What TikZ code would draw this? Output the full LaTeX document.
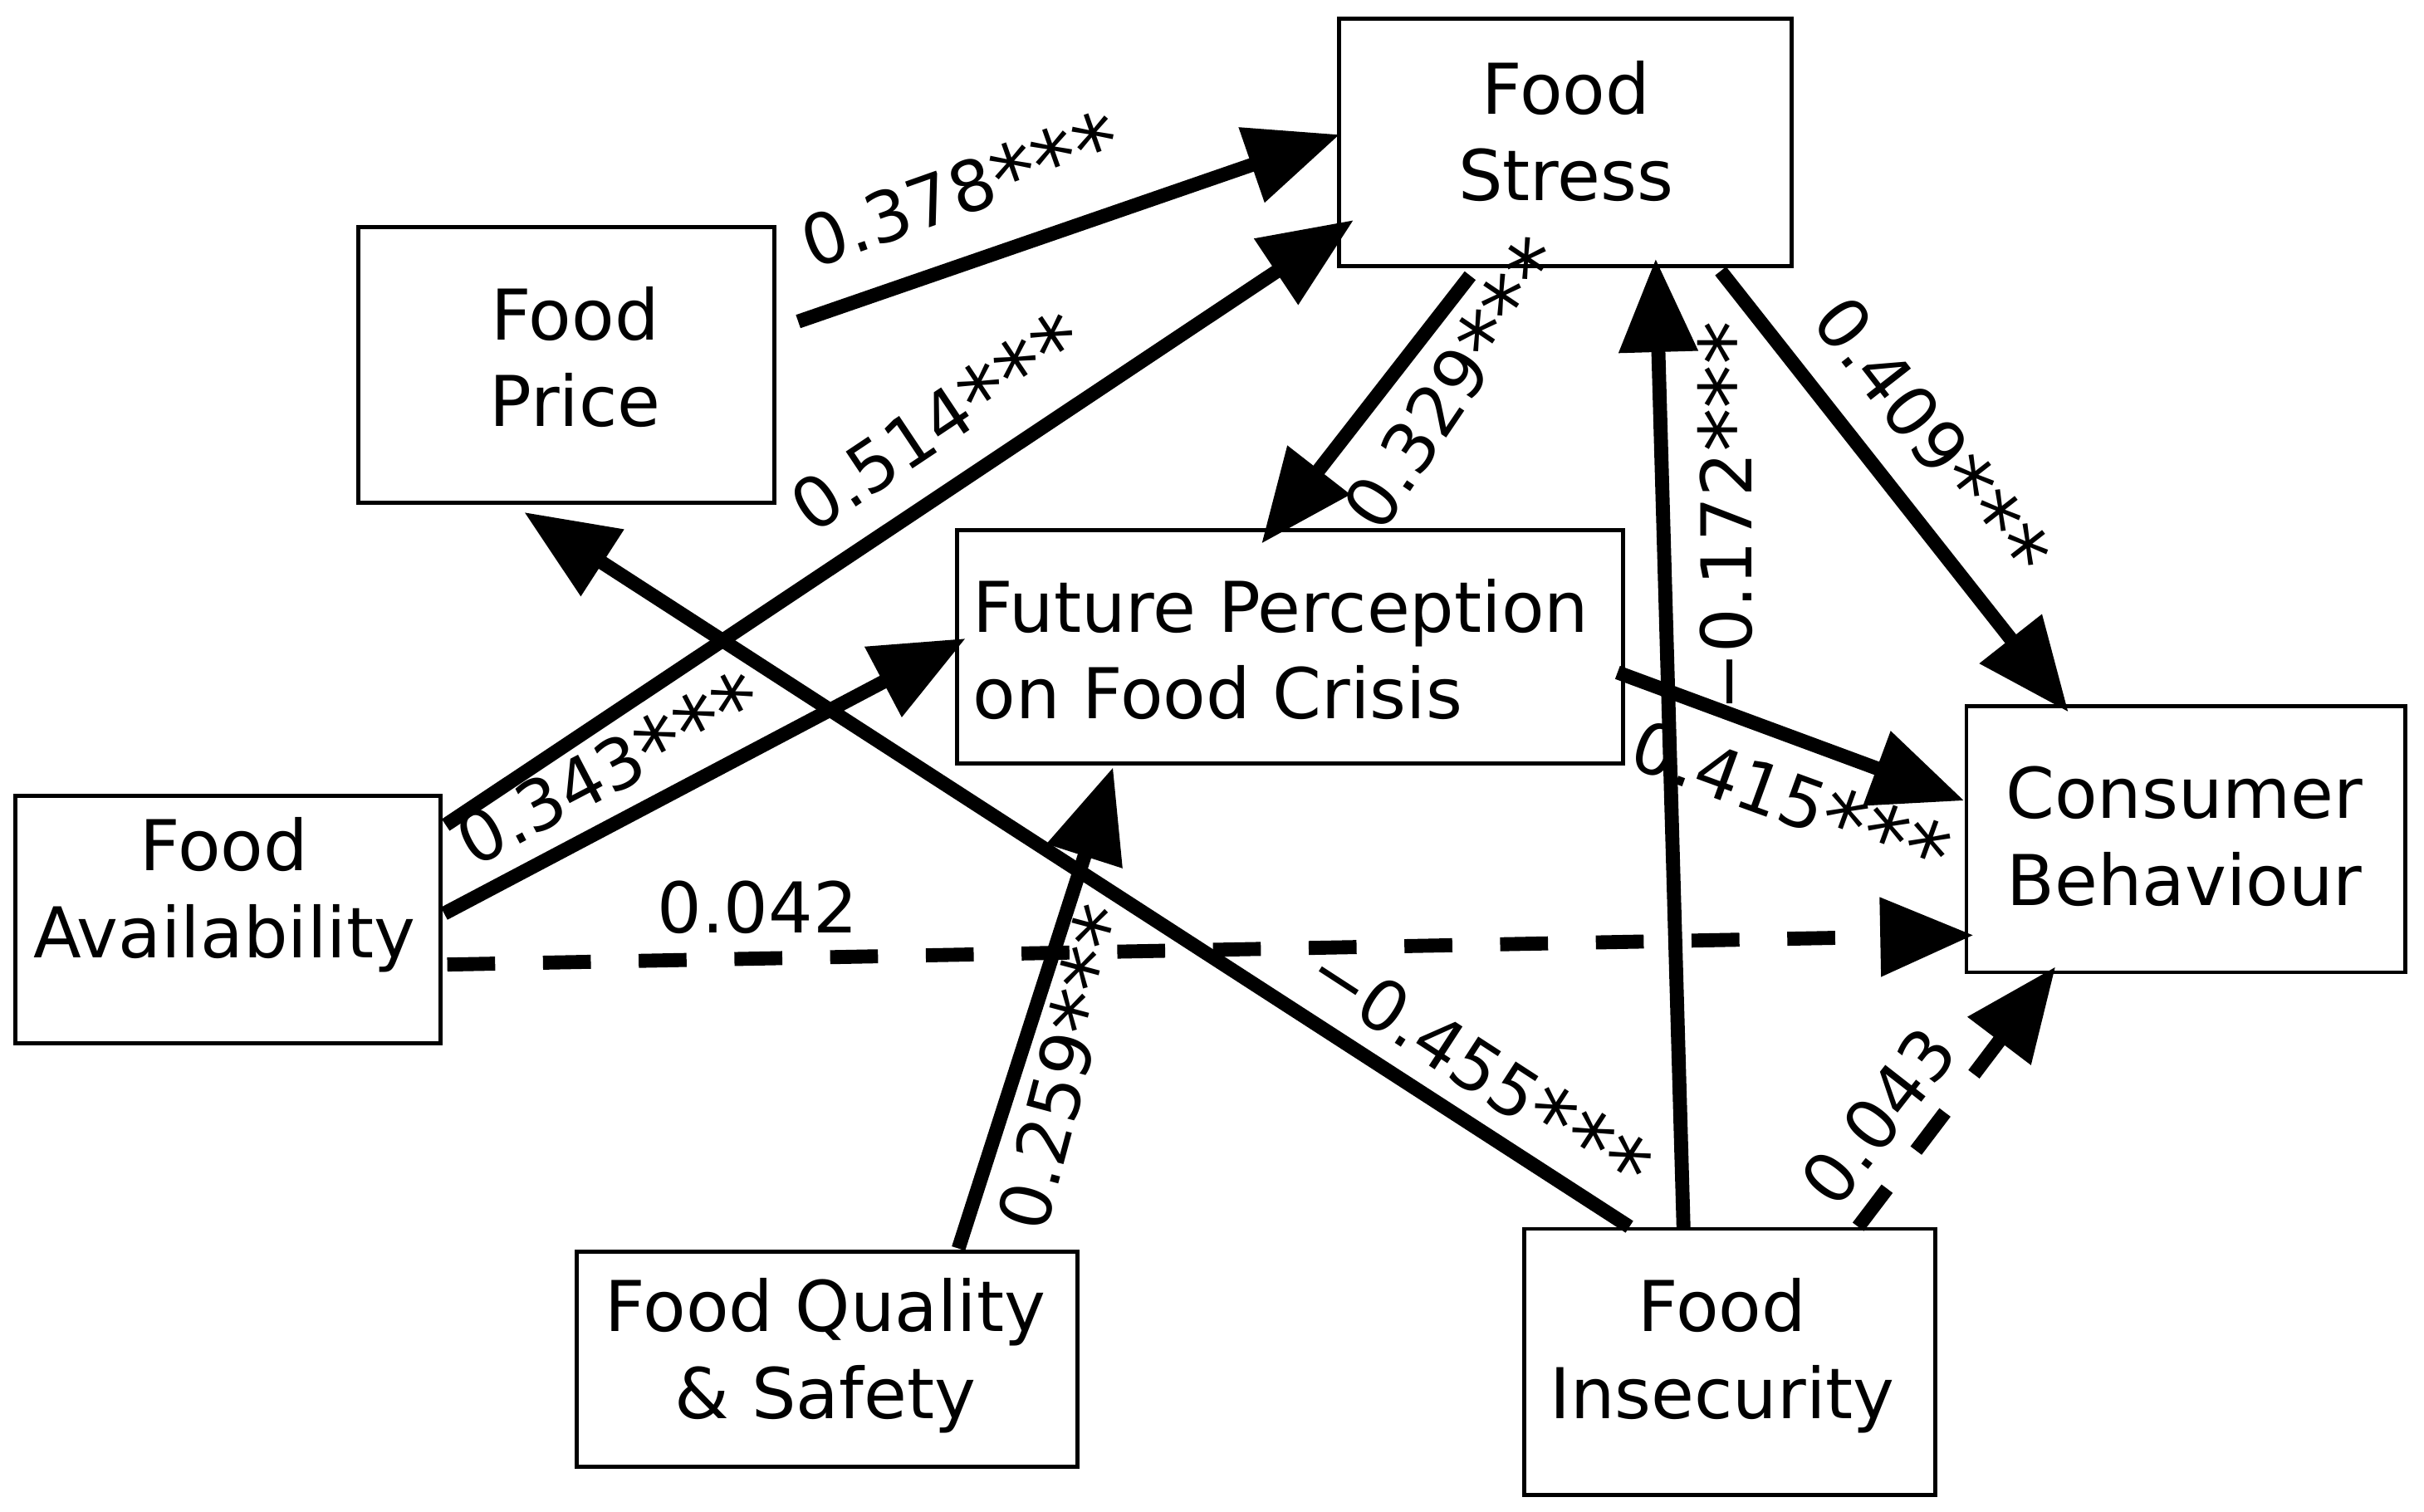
\documentclass[tikz,border=0pt]{standalone}
\usepackage{fontspec}
\usepackage{graphicx}
\setmainfont{DejaVu Sans}
\usetikzlibrary{arrows.meta,fit}
\newcommand\stk{\raisebox{-0.15em}{\scalebox{1.25}{*}}}
\newcommand\stks{\stk\stk\stk}
\begin{document}
\begin{tikzpicture}[x=0.18616mm,y=-0.18616mm,
  box/.style={draw=black,line width=1.4pt,inner sep=0pt,fill=white},
  txt/.style={inner sep=0pt,font=\fontsize{24}{29.7}\selectfont,align=center},
  lab/.style={inner sep=0pt,font=\fontsize{24}{28}\selectfont},
  arr/.style={line width=4.8pt,line cap=butt,-{Triangle[length=32pt,width=26pt]}},
  darr/.style={arr,dash pattern=on 16.4pt off 16.4pt}]
\fill[white] (0,0) rectangle (1568,978);
\useasboundingbox (0,0) rectangle (1568,978);
% boxes
\node[box,fit={(866,12) (1159,172)}] (fs) {};
\node[box,fit={(232,147) (501,325)}] (fp) {};
\node[box,fit={(619,343) (1050,494)}] (fpc) {};
\node[box,fit={(10,515) (285,675)}] (fa) {};
\node[box,fit={(1272,457) (1556,629)}] (cb) {};
\node[box,fit={(373,810) (697,949)}] (fq) {};
\node[box,fit={(986,795) (1252,967)}] (fi) {};
% texts
\node[txt] (fst) at (1013,85) {Food\\Stress};
\node[txt] (fpt) at (372,231) {Food\\Price};
\node[txt,align=left,anchor=west] (fpct) at (629,420) {Future Perception\\on Food Crisis};
\node[txt] (fat) at (145,579) {Food\\Availability};
\node[txt] (cbt) at (1413,541) {Consumer\\Behaviour};
\node[txt] (fqt) at (534,877) {Food Quality\\\& Safety};
\node[txt] (fit) at (1114,877) {Food\\Insecurity};
% connectors
\draw[arr] ([shift={(14,-28)}]fp.east) -- ([shift={(2,-5)}]fs.west);
\draw[arr] ([shift={(2,20)}]fa.north east) -- ([shift={(11,-31)}]fs.south west);
\draw[arr] ([shift={(1,-4)}]fa.east) -- ([shift={(7,-5.5)}]fpc.west);
\draw[darr] ([shift={(3,29)}]fa.east) -- ([shift={(6,62)}]cb.west);
\draw[arr] ([shift={(-61.5,5)}]fs.south) -- ([shift={(-18.5,10)}]fpc.north);
\draw[arr] ([shift={(100.5,2)}]fs.south) -- ([shift={(-76,5)}]cb.north);
\draw[arr] ([shift={(-5,16.5)}]fpc.east) -- ([shift={(0,-25)}]cb.west);
\draw[arr] ([shift={(85,-1)}]fq.north) -- ([shift={(-114.5,1)}]fpc.south);
\draw[arr] ([shift={(-65,0)}]fi.north) -- ([shift={(-27.5,5)}]fp.south);
\draw[arr] ([shift={(-30,1)}]fi.north) -- ([shift={(58.5,-6)}]fs.south);
\draw[darr] ([shift={(83,0)}]fi.north) -- ([shift={(59,-5)}]cb.south west);
% labels
\node[lab,rotate=19.5] (l1) at (622,125) {0.378\stks};
\node[lab,rotate=33.7] (l2) at (607,275) {0.514\stks};
\node[lab,rotate=27.6] (l3) at (395,499) {0.343\stks};
\node[lab] (l4) at (490,587) {0.042};
\node[lab,rotate=56] (l5) at (942,249) {0.329\stks};
\node[lab,rotate=-52] (l6) at (1248,284) {0.409\stks};
\node[lab,rotate=-20] (l7) at (1158,519) {0.415\stks};
\node[lab,rotate=90] (l8) at (1119,334) {−0.172\stks};
\node[lab,rotate=75] (l9) at (690,691) {0.259\stks};
\node[lab,rotate=-33] (l10) at (956,693) {−0.455\stks};
\node[lab,rotate=52] (l11) at (1215,722) {0.043};
\end{tikzpicture}
\end{document}
